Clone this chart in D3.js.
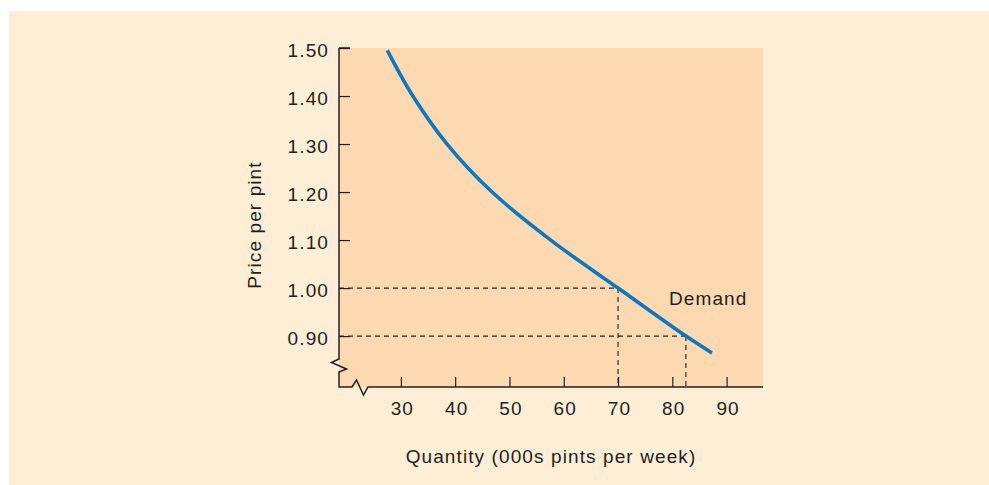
<!DOCTYPE html>
<html><head><meta charset="utf-8">
<script src="https://cdn.jsdelivr.net/npm/d3@7"></script>
<style>
html,body{margin:0;padding:0;background:#fff;}
svg{display:block;}
text{font-family:"Liberation Sans",Arial,Helvetica,sans-serif;fill:#231f20;letter-spacing:1.1px;}
</style></head>
<body>
<script>
// Data
const demandQty   = [27.5, 32.2, 38.5, 46.8, 57.6, 70.0, 82.5, 87.3];
const demandPrice = [1.495, 1.40, 1.30, 1.20, 1.10, 1.00, 0.90, 0.865];
const xTicks = [30, 40, 50, 60, 70, 80, 90];
const yTicks = [0.90, 1.00, 1.10, 1.20, 1.30, 1.40, 1.50];
const guidePoints = [{q:70, p:1.00}, {q:82.5, p:0.90}];
const curveLabel = "Demand";
const xTitle = "Quantity (000s pints per week)";
const yTitle = "Price per pint";

const W = 989, H = 485;
const FS = 19;
const svg = d3.select("body").append("svg").attr("width", W).attr("height", H);

// background panel
svg.append("rect").attr("x", 9).attr("y", 11).attr("width", W - 9).attr("height", H - 11).attr("fill", "#fdeed5");

const L = 339, R = 763, T = 48, B = 387;
const x = d3.scaleLinear().domain([18.6, 96.7]).range([L, R]);
const y = d3.scaleLinear().domain([0.794, 1.5]).range([B, T]);

svg.append("rect").attr("x", L).attr("y", T).attr("width", R - L).attr("height", B - T).attr("fill", "#fcd9b0");

// dashed guides
const g = svg.append("g").attr("stroke", "#231f20").attr("stroke-width", 1.1).attr("stroke-dasharray", "5,4").attr("fill", "none");
guidePoints.forEach(d => {
  g.append("line").attr("x1", L).attr("x2", x(d.q)).attr("y1", y(d.p)).attr("y2", y(d.p));
  g.append("line").attr("x1", x(d.q)).attr("x2", x(d.q)).attr("y1", y(d.p)).attr("y2", B);
});

// axes with ticks
const yAxis = d3.axisLeft(y).tickValues(yTicks).tickFormat(d3.format(".2f")).tickSize(-11);
const ya = svg.append("g").attr("transform", `translate(${L},0)`).call(yAxis);
ya.select(".domain").remove();
ya.attr("font-size", FS).attr("font-family", null);
ya.selectAll("line").attr("stroke", "#231f20").attr("stroke-width", 1.2);
ya.selectAll("text").attr("fill", "#231f20").attr("x", -10).attr("dy", "0.43em");

const xAxis = d3.axisBottom(x).tickValues(xTicks).tickSize(-10);
const xa = svg.append("g").attr("transform", `translate(0,${B})`).call(xAxis);
xa.select(".domain").remove();
xa.attr("font-size", FS).attr("font-family", null);
xa.selectAll("line").attr("stroke", "#231f20").attr("stroke-width", 1.2);
xa.selectAll("text").attr("fill", "#231f20").attr("y", 15).attr("dx", "0.05em");

// axis lines with break marks
const ax = svg.append("g").attr("fill", "none").attr("stroke", "#231f20").attr("stroke-width", 1.5).attr("stroke-linejoin", "miter");
ax.append("path").attr("d", `M${L},${T} L${L},359 L${L-7.5},362.5 L${L+7.5},369 L${L},372 L${L},${B} L352,${B} L356.5,380 L363.5,395 L368,${B} L${R},${B}`);
ax.append("line").attr("x1", L).attr("x2", L + 11).attr("y1", T).attr("y2", T);

// demand curve
const pts = demandQty.map((q, i) => [x(q), y(demandPrice[i])]);
svg.append("path").attr("d", d3.line().curve(d3.curveCatmullRom.alpha(0.5))(pts))
  .attr("fill", "none").attr("stroke", "#0a78c2").attr("stroke-width", 3.6).attr("stroke-linecap", "butt");

svg.append("text").attr("x", 669).attr("y", 305).attr("font-size", FS).text(curveLabel);

svg.append("text").attr("x", 551).attr("y", 463).attr("text-anchor", "middle").attr("font-size", FS).text(xTitle);
svg.append("text").attr("transform", `translate(261,225) rotate(-90)`).attr("text-anchor", "middle").attr("font-size", FS).text(yTitle);
</script>
</body></html>
